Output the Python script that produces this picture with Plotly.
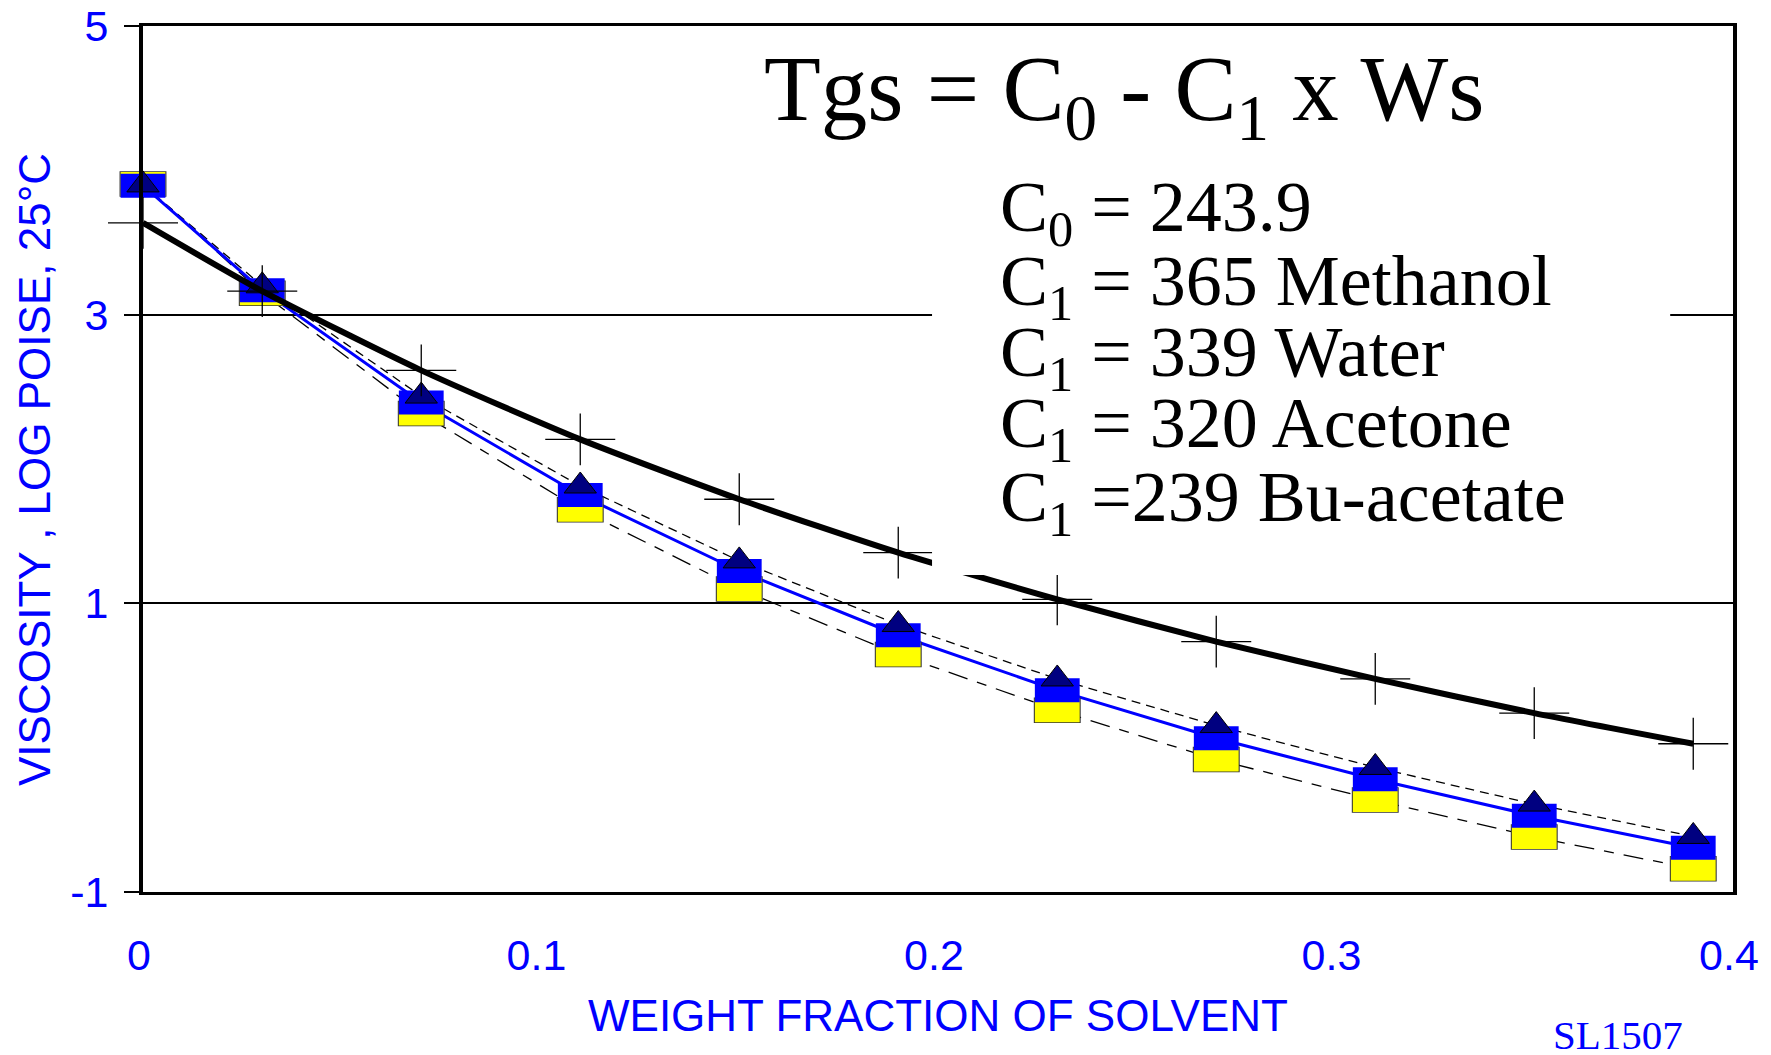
import plotly.graph_objects as go

# weight fraction of solvent (x) and log viscosity at 25 C (y)
x_frac = [0, 0.03, 0.07, 0.11, 0.15, 0.19, 0.23, 0.27, 0.31, 0.35, 0.39]
bu_acetate = [3.636, 3.163, 2.614, 2.136, 1.721, 1.351, 1.028, 0.735, 0.477, 0.239, 0.027]
acetone = [3.899, 3.200, 2.436, 1.813, 1.294, 0.853, 0.476, 0.153, -0.137, -0.391, -0.615]
water = [3.894, 3.170, 2.391, 1.751, 1.224, 0.779, 0.397, 0.065, -0.219, -0.472, -0.694]
methanol = [3.906, 3.149, 2.316, 1.649, 1.100, 0.645, 0.259, -0.082, -0.363, -0.619, -0.839]

x_ticks = [0, 0.1, 0.2, 0.3, 0.4]
x_ticktext = ["0", "0.1", "0.2", "0.3", "0.4"]
y_ticks = [-1, 1, 3, 5]
y_ticktext = ["-1", "1", "3", "5"]

BLUE = "#0000FF"
SANS = "Liberation Sans, Arial, sans-serif"
SERIF = "Liberation Serif, Times New Roman, serif"


def px2paper_x(px):
    return (px - 143) / 1590


def px2paper_y(px):
    return (892.3 - px) / 866.6


fig = go.Figure()

# connecting lines
fig.add_scatter(x=x_frac, y=acetone, mode="lines", showlegend=False,
                line=dict(color="black", width=1.3, dash="9px,6px"))
fig.add_scatter(x=x_frac, y=methanol, mode="lines", showlegend=False,
                line=dict(color="black", width=1.3, dash="20px,10px,10px,10px"))
fig.add_scatter(x=x_frac, y=water, mode="lines", showlegend=False,
                line=dict(color=BLUE, width=3))

# rectangular markers (wider than tall), built from thick line-ew symbols
fig.add_scatter(x=x_frac, y=methanol, mode="markers", showlegend=False, cliponaxis=False,
                marker=dict(symbol="line-ew", size=33.5, color="#333333",
                            line=dict(width=25.5, color="#333333")))
fig.add_scatter(x=x_frac, y=methanol, mode="markers", name="Methanol", cliponaxis=False,
                marker=dict(symbol="line-ew", size=32, color="#FFFF00",
                            line=dict(width=24, color="#FFFF00")))
fig.add_scatter(x=x_frac, y=water, mode="markers", name="Water", cliponaxis=False,
                marker=dict(symbol="line-ew", size=32, color=BLUE,
                            line=dict(width=24, color=BLUE)))
fig.add_scatter(x=x_frac, y=acetone, mode="markers", name="Acetone", cliponaxis=False,
                marker=dict(symbol="triangle-up", size=28, color="#000080",
                            line=dict(width=1, color="black")))

# Bu-acetate: thick smooth curve with thin crosses
fig.add_scatter(x=x_frac, y=bu_acetate, mode="lines", name="Bu-acetate",
                line=dict(color="black", width=6, shape="spline", smoothing=0.6))
fig.add_scatter(x=x_frac, y=bu_acetate, mode="markers", showlegend=False, cliponaxis=False,
                marker=dict(symbol="line-ew", size=50, color="black",
                            line=dict(width=1.3, color="black")))
fig.add_scatter(x=x_frac, y=bu_acetate, mode="markers", showlegend=False, cliponaxis=False,
                marker=dict(symbol="line-ns", size=37, color="black",
                            line=dict(width=1.3, color="black")))

# white panel behind the equation block
fig.add_shape(type="rect", xref="x", yref="y", x0=0.1985, x1=0.3842, y0=1.197, y1=4.5,
              fillcolor="white", line=dict(width=0), layer="above")

annotations = []
annotations.append(dict(
    text="Tgs = C<sub>0</sub> - C<sub>1</sub> x Ws",
    x=px2paper_x(762), y=px2paper_y(34.6), xanchor="left", yanchor="top",
    font=dict(family=SERIF, size=93, color="black")))

eq_lines = ["C<sub>0</sub> = 243.9",
            "C<sub>1</sub> = 365 Methanol",
            "C<sub>1</sub> = 339 Water",
            "C<sub>1</sub> = 320 Acetone",
            "C<sub>1</sub> =239 Bu-acetate"]
eq_tops = [165, 238.6, 310, 381.4, 454.6]
for txt, top in zip(eq_lines, eq_tops):
    annotations.append(dict(
        text=txt, x=px2paper_x(998), y=px2paper_y(top), xanchor="left", yanchor="top",
        font=dict(family=SERIF, size=72, color="black")))

annotations.append(dict(
    text="WEIGHT FRACTION OF SOLVENT", x=px2paper_x(938), y=px2paper_y(989),
    xanchor="center", yanchor="top", font=dict(family=SANS, size=44, color=BLUE)))
annotations.append(dict(
    text="VISCOSITY , LOG POISE, 25°C", textangle=-90,
    x=px2paper_x(35), y=px2paper_y(470), xanchor="center", yanchor="middle",
    font=dict(family=SANS, size=44, color=BLUE)))
annotations.append(dict(
    text="SL1507", x=px2paper_x(1551), y=px2paper_y(1010), xanchor="left", yanchor="top",
    font=dict(family=SERIF, size=41, color=BLUE)))

for a in annotations:
    a.update(xref="paper", yref="paper", showarrow=False)

fig.update_layout(
    width=1771, height=1055,
    margin=dict(l=143, r=38, t=25.7, b=162.7, autoexpand=False),
    paper_bgcolor="white", plot_bgcolor="white",
    showlegend=False,
    annotations=annotations,
    xaxis=dict(range=[0, 0.4], tickvals=x_ticks, ticktext=x_ticktext, ticks="",
               showgrid=False, zeroline=False, showline=True, linewidth=3,
               linecolor="black", mirror=True, automargin=False,
               ticklabelstandoff=23, ticklabelshift=-4,
               tickfont=dict(family=SANS, size=43, color=BLUE)),
    yaxis=dict(range=[-1, 5], tickvals=y_ticks, ticktext=y_ticktext, ticks="outside",
               ticklen=15, tickwidth=2.3, tickcolor="black", showgrid=True,
               gridcolor="black", gridwidth=2.3, zeroline=False, showline=True,
               linewidth=4, linecolor="black", mirror=True, automargin=False,
               ticklabelstandoff=7,
               tickfont=dict(family=SANS, size=43, color=BLUE)),
)

fig.write_html("out.html", config={"displayModeBar": False},
               post_script="document.body.style.margin='0';")
